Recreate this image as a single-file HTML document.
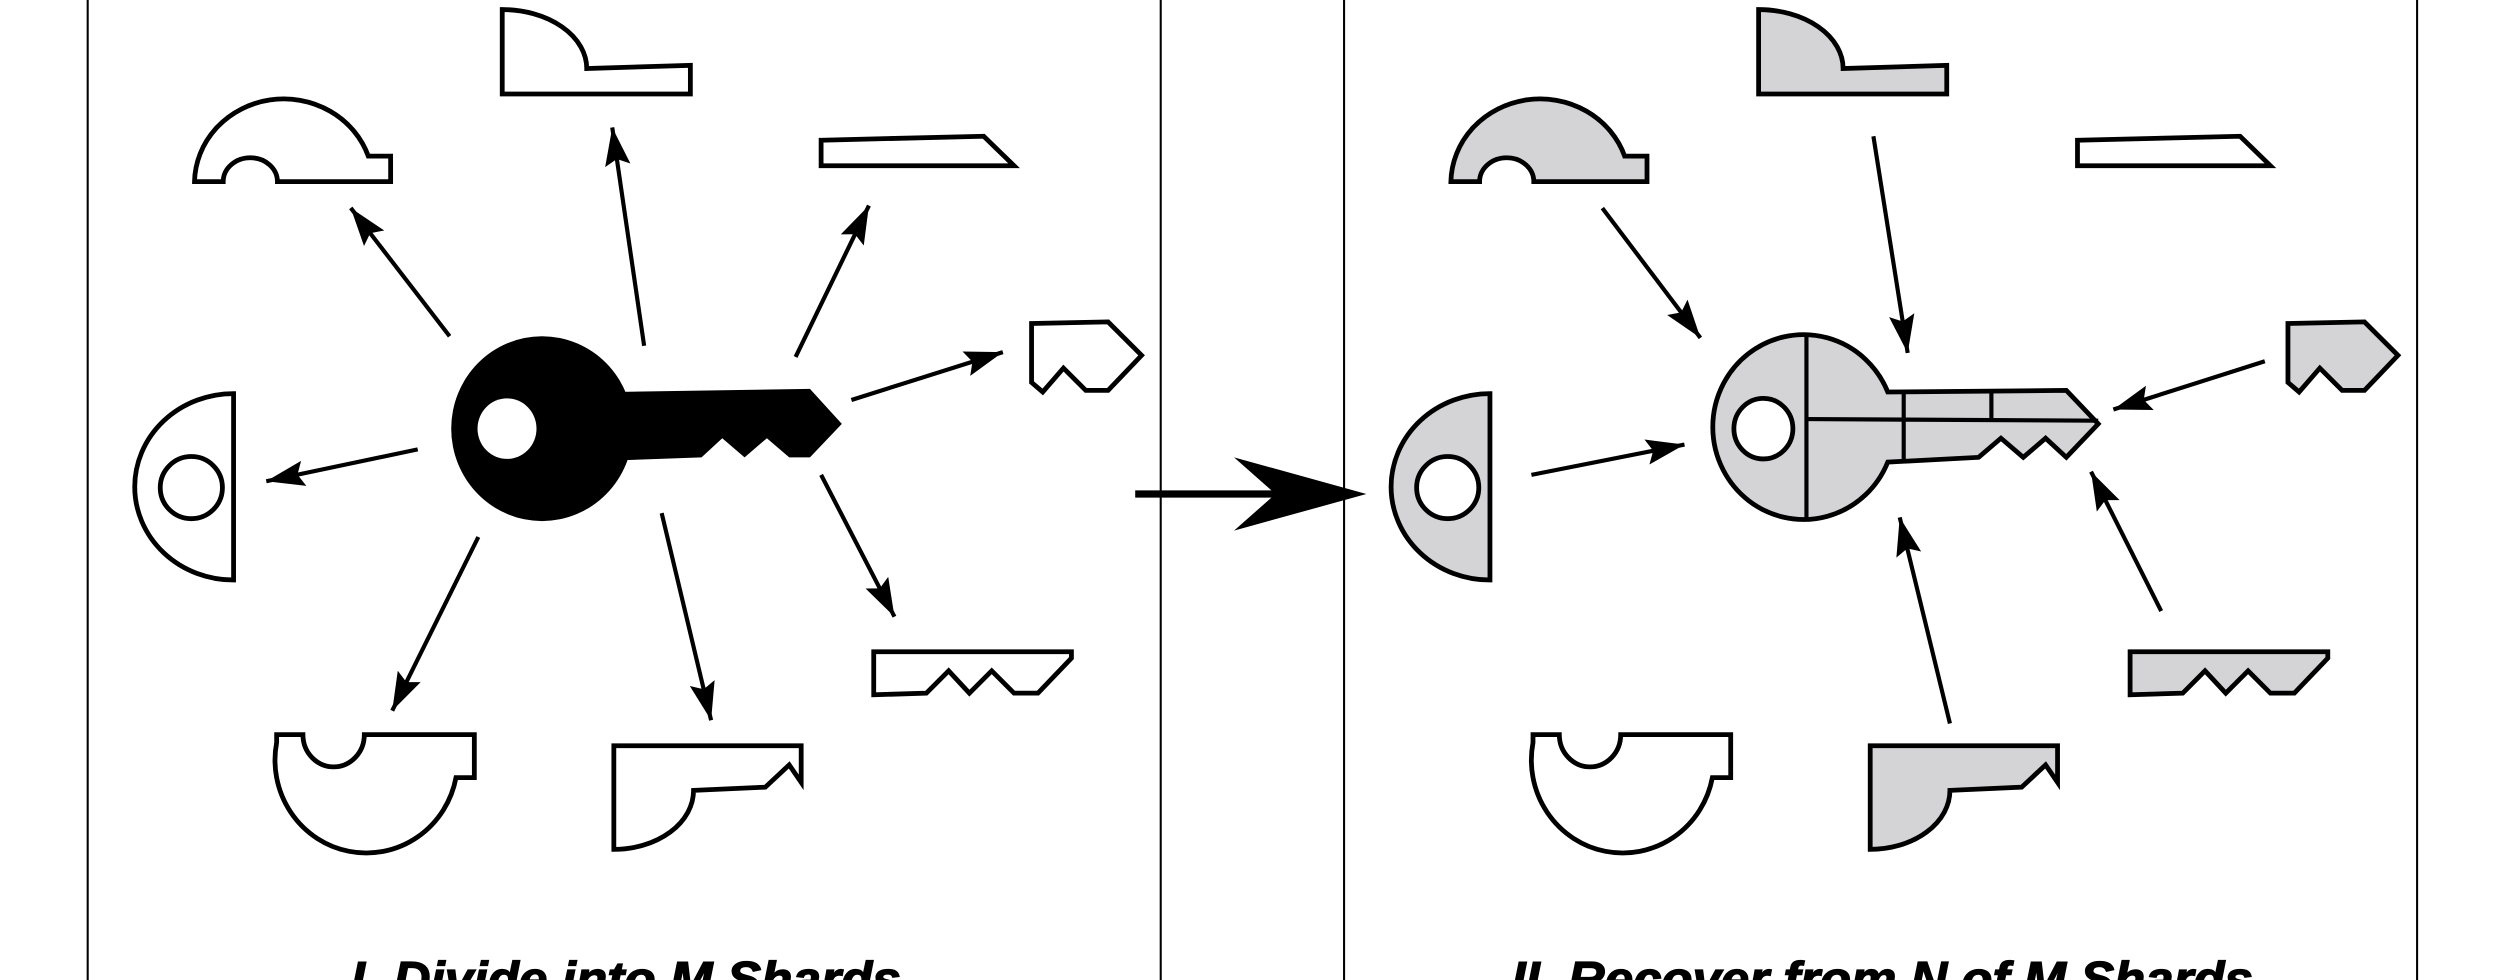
<!DOCTYPE html>
<html><head><meta charset="utf-8"><style>
html,body{margin:0;padding:0;background:#fff;}
svg{display:block;}
</style></head><body>
<svg width="2500" height="980" viewBox="0 0 1568 615" preserveAspectRatio="none" xmlns="http://www.w3.org/2000/svg">
<defs>
<marker id="ah" markerWidth="26" markerHeight="18" refX="24" refY="9" orient="auto" markerUnits="userSpaceOnUse">
<path d="M0,1 L24,9 L0,17 L4,9 Z" fill="#000"/>
</marker>
<g id="arch"><path d="M122,114 A56,53 0 0 1 231,98 L245,98 L245,114 L174,114 A17,15 0 0 0 140,114 Z"/></g>
<g id="topm"><path d="M315,6 L315,59 L433,59 L433,41 L368,43 A53,37 0 0 0 315,6 Z"/></g>
<g id="para"><path d="M515,88 L617,85.5 L636,104 L515,104 Z"/></g>
<g id="pent"><path d="M647,203 L695,202 L716,223 L695,245 L681,245 L667,231 L654,246 L647,240 Z"/></g>
<g id="teeth"><path d="M548,409 L672,409 L672,413 L651,435 L636,435 L622,421 L608,435 L595,421 L581,435 L548,436 Z"/></g>
<g id="ush"><path d="M173.5,461 L190,461 A19,20 0 0 0 228.5,461 L297.5,461 L297.5,488 L286,488 A57,58 0 0 1 173.5,466 Z"/></g>
<g id="botm"><path d="M385,468 L502.5,468 L502.5,491 L495,480 L480,494 L435,496 A50,37 0 0 1 385,533 Z"/></g>
</defs>

<g stroke="#000" stroke-width="1.3">
<line x1="55" y1="0" x2="55" y2="615"/>
<line x1="728" y1="0" x2="728" y2="615"/>
<line x1="843" y1="0" x2="843" y2="615"/>
<line x1="1516" y1="0" x2="1516" y2="615"/>
</g>

<line x1="712" y1="310" x2="805" y2="310" stroke="#000" stroke-width="4.5"/>
<path d="M857,310 L774,287 L800,310 L774,333 Z" fill="#000"/>

<g fill="#fff" stroke="#000" stroke-width="3" stroke-linejoin="miter">
<use href="#arch"/><use href="#topm"/><use href="#para"/><use href="#pent"/><use href="#teeth"/><use href="#ush"/><use href="#botm"/>
<path d="M146.5,247 L146.5,364 A62,58.5 0 0 1 146.5,247 Z"/>
<circle cx="120" cy="306" r="19.5"/>
</g>
<g fill="#000">
<ellipse cx="340" cy="269" rx="57" ry="58"/>
<path d="M385,246 L508,244 L528,266 L508,287 L495,287 L481,275 L467,287 L453,275 L440,287 L385,289 Z"/>
<ellipse cx="318" cy="269" rx="18.5" ry="19" fill="#fff"/>
</g>
<g stroke="#000" stroke-width="2.6" fill="none" marker-end="url(#ah)">
<line x1="282" y1="211" x2="220" y2="130.5"/>
<line x1="404" y1="217" x2="384" y2="80"/>
<line x1="499" y1="224" x2="545" y2="129"/>
<line x1="534" y1="251" x2="629" y2="221"/>
<line x1="262" y1="282" x2="167" y2="302"/>
<line x1="300" y1="337" x2="246" y2="446"/>
<line x1="415" y1="322" x2="446" y2="452"/>
<line x1="515" y1="298" x2="561" y2="387"/>
</g>

<g transform="translate(788,0)" stroke="#000" stroke-width="3">
<g fill="#d4d4d7">
<use href="#arch"/><use href="#topm"/><use href="#pent"/><use href="#teeth"/><use href="#botm"/>
<path d="M146.5,247 L146.5,364 A62,58.5 0 0 1 146.5,247 Z"/>
</g>
<g fill="#fff"><use href="#para"/><use href="#ush"/>
<circle cx="120" cy="306" r="19.5"/></g>
<path fill="#d4d4d7" d="M396,246 A57,58 0 1 0 396,290 L453,287 L467,275 L481,287 L495,275 L508,287 L528,266 L508,245 Z"/>
<ellipse cx="318" cy="269" rx="18.5" ry="19" fill="#fff"/>
<g fill="none" stroke-width="2.6">
<line x1="345" y1="211" x2="345" y2="327"/>
<line x1="345" y1="263" x2="528" y2="264"/>
<line x1="406" y1="246" x2="406" y2="289"/>
<line x1="461" y1="245" x2="461" y2="263"/>
</g>
</g>
<g stroke="#000" stroke-width="2.6" fill="none" marker-end="url(#ah)">
<line x1="1005" y1="130.6" x2="1066.5" y2="212"/>
<line x1="1175" y1="85.5" x2="1196.5" y2="221.5"/>
<line x1="1420.5" y1="226.7" x2="1325.5" y2="257"/>
<line x1="960.5" y1="298" x2="1056.5" y2="279"/>
<line x1="1355.5" y1="383.5" x2="1311.5" y2="296"/>
<line x1="1223" y1="454" x2="1191.5" y2="324.7"/>
</g>

<g font-family="'Liberation Sans', sans-serif" font-weight="bold" font-style="italic" font-size="31" fill="#000" stroke="#000" stroke-width="0.8">
<text x="220" y="625" textLength="345" lengthAdjust="spacingAndGlyphs">I. Divide into M Shards</text>
<text x="948" y="625" textLength="465" lengthAdjust="spacingAndGlyphs">II. Recover from N of M Shards</text>
</g>
</svg>
</body></html>
